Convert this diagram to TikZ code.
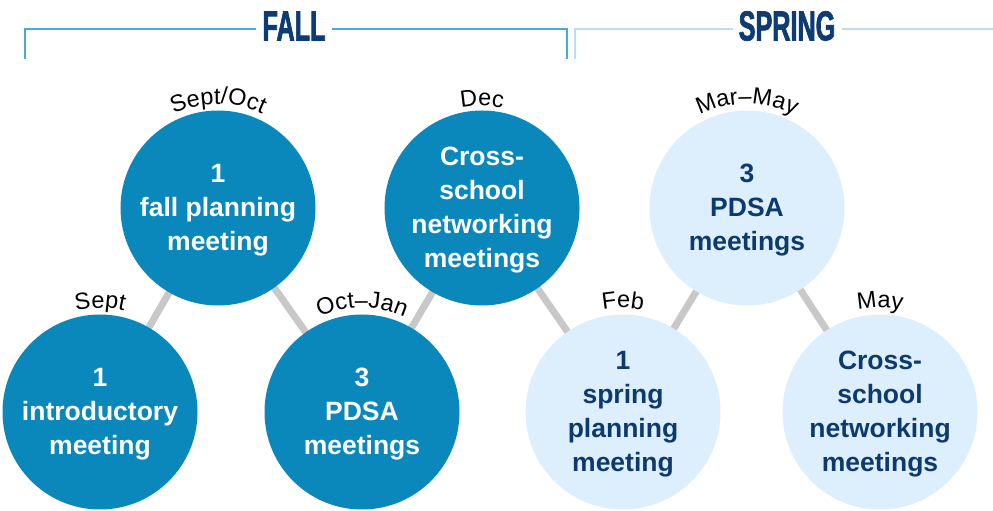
\documentclass[tikz,border=0pt]{standalone}
\usepackage{fontspec}
\usepackage{graphicx}
\setmainfont{Liberation Sans}
\newfontfamily\ttlfamily[FakeStretch=0.6,FakeBold=1.6]{Liberation Sans Bold}
\usetikzlibrary{decorations.text,backgrounds}
\definecolor{fallblue}{HTML}{0A88BC}
\definecolor{springblue}{HTML}{DDEEFC}
\definecolor{navy}{HTML}{0D3A6E}
\definecolor{titlenavy}{HTML}{0D3B73}
\definecolor{fallline}{HTML}{4BA9D5}
\definecolor{springline}{HTML}{BBDDFB}
\definecolor{connc}{HTML}{C8C8C8}
\newcommand\circfont{\fontsize{26.5}{34}\selectfont\bfseries}
\newcommand\lblfont{\fontsize{23.5}{28}\selectfont}
\newcommand\ttlfont{\fontsize{42}{42}\selectfont\ttlfamily}
\begin{document}
\begin{tikzpicture}[x=1pt,y=1pt,
  fallc/.style={circle, fill=fallblue, minimum size=195pt, inner sep=0pt},
  springc/.style={circle, fill=springblue, minimum size=195pt, inner sep=0pt},
  ctext/.style={align=center, font=\circfont, inner sep=0pt, yshift=-2pt},
  connector/.style={line width=7pt, draw=connc},
  arclabel/.style={decorate, decoration={text along path, text align=center, text={|\lblfont|#1}}},
  ttl/.style={text=titlenavy, inner sep=6pt},
  fline/.style={draw=fallline, line width=2.6pt},
  sline/.style={draw=springline, line width=2.6pt},
]
\useasboundingbox (0,0) rectangle (993,511);

% circles
\node[fallc] (c1) at (100,99) {};
\node[fallc] (c2) at (218,303) {};
\node[fallc] (c3) at (362,99) {};
\node[fallc] (c4) at (482,303) {};
\node[springc] (c5) at (623,99) {};
\node[springc] (c6) at (747,303) {};
\node[springc] (c7) at (880,99) {};

% connectors behind
\begin{pgfonlayer}{background}
\draw[connector] (c1.center) -- (c2.center);
\draw[connector] (c2.center) -- (c3.center);
\draw[connector] (c3.center) -- (c4.center);
\draw[connector] (c4.center) -- (c5.center);
\draw[connector] (c5.center) -- (c6.center);
\draw[connector] (c6.center) -- (c7.center);
\end{pgfonlayer}

% circle texts
\node[ctext, text=white] (t1) at (c1.center) {1\\introductory\\meeting};
\node[ctext, text=white] (t2) at (c2.center) {1\\fall planning\\meeting};
\node[ctext, text=white] (t3) at (c3.center) {3\\PDSA\\meetings};
\node[ctext, text=white] (t4) at (c4.center) {Cross-\\school\\networking\\meetings};
\node[ctext, text=navy] (t5) at (c5.center) {1\\spring\\planning\\meeting};
\node[ctext, text=navy] (t6) at (c6.center) {3\\PDSA\\meetings};
\node[ctext, text=navy] (t7) at (c7.center) {Cross-\\school\\networking\\meetings};

% curved date labels
\path[arclabel={Sept}] ([shift={(150:104)}]c1.center) arc[start angle=150, end angle=30, radius=104];
\path[arclabel={Sept/Oct}] ([shift={(150:104)}]c2.center) arc[start angle=150, end angle=30, radius=104];
\path[arclabel={Oct–Jan}] ([shift={(150:104)}]c3.center) arc[start angle=150, end angle=30, radius=104];
\path[arclabel={Dec}] ([shift={(150:102)}]c4.center) arc[start angle=150, end angle=30, radius=102];
\path[arclabel={Feb}] ([shift={(150:104)}]c5.center) arc[start angle=150, end angle=30, radius=104];
\path[arclabel={Mar–May}] ([shift={(150:104)}]c6.center) arc[start angle=150, end angle=30, radius=104];
\path[arclabel={May}] ([shift={(150:104)}]c7.center) arc[start angle=150, end angle=30, radius=104];

% titles and brackets
\node[ttl] (fall) at (294,485) {\ttlfont FALL};
\node[ttl] (spring) at (787,485) {\ttlfont SPRING};
\coordinate (fl) at (25,452);
\coordinate (fr) at (567,452);
\coordinate (sl) at (575,452);
\coordinate (sr) at (993,482);
\draw[fline] (fl) |- ([yshift=-3pt]fall.west);
\draw[fline] ([yshift=-3pt]fall.east) -| (fr);
\draw[sline] (sl) |- ([yshift=-3pt]spring.west);
\draw[sline] ([yshift=-3pt]spring.east) -- (sr);
\end{tikzpicture}
\end{document}
